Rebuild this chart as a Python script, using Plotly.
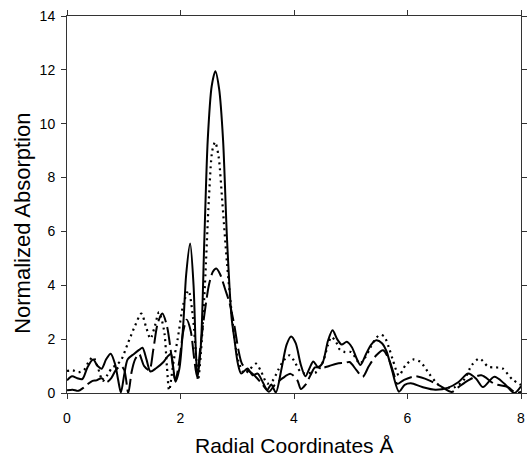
import plotly.graph_objects as go

# Series: solid line
solid_x = [0.00, 0.09, 0.18, 0.27, 0.36, 0.46, 0.54, 0.61, 0.69, 0.77, 0.85, 0.90, 0.95, 1.01, 1.07, 1.18, 1.27, 1.33, 1.40, 1.47, 1.57, 1.70, 1.77, 1.83, 1.87, 1.91, 1.98, 2.05, 2.10, 2.17, 2.23, 2.27, 2.30, 2.36, 2.42, 2.48, 2.55, 2.615, 2.68, 2.75, 2.82, 2.90, 2.95, 3.01, 3.07, 3.18, 3.27, 3.36, 3.45, 3.53, 3.60, 3.68, 3.78, 3.87, 3.95, 4.03, 4.12, 4.20, 4.28, 4.34, 4.42, 4.50, 4.60, 4.68, 4.76, 4.84, 4.93, 5.02, 5.10, 5.17, 5.27, 5.36, 5.45, 5.55, 5.63, 5.72, 5.85, 5.95, 6.06, 6.26, 6.49, 6.72, 6.90, 7.07, 7.21, 7.33, 7.53, 7.71, 7.88, 8.00]
solid_y = [0.47, 0.62, 0.55, 0.52, 0.95, 1.24, 1.00, 0.90, 1.25, 1.46, 1.05, 0.50, 0.02, 0.70, 1.25, 1.45, 1.60, 1.68, 1.25, 0.80, 0.92, 1.15, 1.35, 1.46, 1.00, 0.42, 0.90, 2.60, 4.40, 5.55, 4.00, 1.60, 0.60, 1.80, 5.70, 9.40, 11.40, 11.95, 11.30, 9.40, 5.70, 2.80, 2.00, 1.10, 0.72, 0.91, 0.66, 0.72, 0.40, 0.12, 0.32, 0.02, 0.90, 1.80, 2.10, 1.85, 1.05, 0.62, 0.95, 1.17, 0.97, 1.10, 1.95, 2.33, 2.00, 1.80, 1.90, 1.70, 1.30, 1.04, 1.45, 1.80, 1.96, 1.85, 1.55, 0.90, 0.05, 0.30, 0.36, 0.22, 0.12, 0.20, 0.41, 0.72, 0.53, 0.22, 0.60, 0.34, 0.00, 0.25]

# Series: dotted line
dotted_x = [0.00, 0.10, 0.20, 0.30, 0.38, 0.46, 0.55, 0.63, 0.72, 0.80, 0.88, 0.96, 1.07, 1.18, 1.31, 1.40, 1.47, 1.55, 1.62, 1.71, 1.76, 1.80, 1.88, 1.95, 2.05, 2.14, 2.22, 2.28, 2.31, 2.36, 2.43, 2.50, 2.56, 2.61, 2.67, 2.74, 2.82, 2.90, 2.98, 3.04, 3.13, 3.22, 3.33, 3.42, 3.53, 3.62, 3.72, 3.82, 3.92, 4.00, 4.11, 4.20, 4.30, 4.40, 4.52, 4.60, 4.66, 4.74, 4.81, 4.90, 5.01, 5.10, 5.16, 5.25, 5.35, 5.45, 5.52, 5.59, 5.67, 5.74, 5.85, 5.97, 6.11, 6.23, 6.38, 6.50, 6.61, 6.75, 6.84, 7.01, 7.13, 7.27, 7.42, 7.55, 7.67, 7.85, 8.00]
dotted_y = [0.82, 0.84, 0.77, 0.85, 1.15, 1.34, 0.90, 0.45, 0.70, 0.95, 1.05, 1.25, 1.83, 2.40, 2.95, 2.40, 2.02, 2.50, 3.00, 2.33, 1.00, 0.10, 1.20, 2.00, 3.30, 3.80, 2.80, 1.20, 0.47, 1.50, 4.00, 7.20, 9.00, 9.32, 8.80, 7.00, 4.80, 3.00, 1.60, 1.05, 0.72, 0.88, 1.09, 0.80, 0.35, 0.45, 0.85, 1.21, 1.40, 1.20, 0.80, 0.72, 0.75, 0.78, 1.21, 1.80, 2.08, 1.90, 1.60, 1.52, 1.52, 1.25, 1.09, 1.30, 1.70, 2.05, 2.16, 2.10, 1.70, 1.24, 0.65, 1.05, 1.25, 1.15, 0.72, 0.40, 0.20, 0.20, 0.22, 0.53, 1.03, 1.28, 0.98, 0.95, 0.92, 0.50, 0.30]

# Series: dashed line
dashed_x = [0.00, 0.10, 0.20, 0.28, 0.36, 0.45, 0.52, 0.61, 0.70, 0.78, 0.86, 0.95, 1.01, 1.08, 1.14, 1.20, 1.27, 1.36, 1.45, 1.52, 1.60, 1.68, 1.76, 1.84, 1.91, 1.98, 2.05, 2.11, 2.18, 2.24, 2.29, 2.35, 2.42, 2.50, 2.57, 2.63, 2.70, 2.78, 2.87, 2.95, 3.02, 3.08, 3.15, 3.25, 3.35, 3.45, 3.56, 3.66, 3.80, 3.94, 4.06, 4.12, 4.20, 4.30, 4.37, 4.50, 4.62, 4.75, 4.90, 4.98, 5.10, 5.21, 5.32, 5.45, 5.57, 5.68, 5.76, 5.82, 5.94, 6.14, 6.38, 6.61, 6.78, 6.90, 7.07, 7.30, 7.53, 7.77, 7.91, 8.00]
dashed_y = [0.10, 0.12, 0.08, 0.18, 0.32, 0.45, 0.47, 0.55, 0.40, 0.55, 0.85, 1.00, 0.85, 0.00, 0.80, 1.25, 1.45, 1.00, 0.85, 1.60, 2.60, 2.95, 2.50, 1.40, 0.47, 1.20, 2.30, 2.72, 2.30, 1.30, 0.62, 1.70, 2.90, 4.00, 4.50, 4.62, 4.40, 3.90, 3.30, 2.50, 1.60, 1.10, 0.90, 0.75, 0.55, 0.30, 0.05, 0.30, 0.55, 0.71, 0.47, 0.15, 0.30, 0.70, 0.95, 0.93, 1.00, 1.09, 1.12, 1.15, 0.85, 0.60, 1.00, 1.40, 1.59, 1.21, 0.70, 0.34, 0.49, 0.62, 0.47, 0.22, 0.04, 0.22, 0.47, 0.66, 0.34, 0.22, 0.00, 0.05]

x_tick_vals = [0, 2, 4, 6, 8]
y_tick_vals = [0, 2, 4, 6, 8, 10, 12, 14]
x_title = "Radial Coordinates Å"
y_title = "Normalized Absorption"

fig = go.Figure()
fig.add_trace(go.Scatter(x=solid_x, y=solid_y, mode="lines",
                         line=dict(color="black", width=2, shape="spline", smoothing=0.8)))
fig.add_trace(go.Scatter(x=dotted_x, y=dotted_y, mode="lines",
                         line=dict(color="black", width=2.2, dash="2px,4px", shape="spline", smoothing=0.8)))
fig.add_trace(go.Scatter(x=dashed_x, y=dashed_y, mode="lines",
                         line=dict(color="black", width=2, dash="18px,5px", shape="spline", smoothing=0.8)))

axis_common = dict(
    showgrid=False, zeroline=False, showline=True, linecolor="#333", linewidth=1,
    ticks="outside", ticklen=5, tickcolor="#333", mirror="ticks",
    tickfont=dict(family="Arial, Liberation Sans", size=14, color="black"),
)

fig.update_layout(
    width=530, height=460,
    margin=dict(l=67, r=3, t=16, b=67),
    paper_bgcolor="white", plot_bgcolor="white",
    showlegend=False,
    xaxis=dict(range=[0, 8], tickvals=x_tick_vals, ticklabelstandoff=7, **axis_common),
    yaxis=dict(range=[0, 14], tickvals=y_tick_vals, ticklabelstandoff=3, **axis_common),
    annotations=[
        dict(text=x_title, xref="paper", yref="paper", x=0.5, y=-0.139,
             xanchor="center", yanchor="middle", showarrow=False,
             font=dict(family="Arial, Liberation Sans", size=21, color="black")),
        dict(text=y_title, xref="paper", yref="paper", x=-0.098, y=0.45,
             xanchor="center", yanchor="middle", showarrow=False, textangle=-90,
             font=dict(family="Arial, Liberation Sans", size=22, color="black")),
    ],
)

fig.write_html("out.html")
